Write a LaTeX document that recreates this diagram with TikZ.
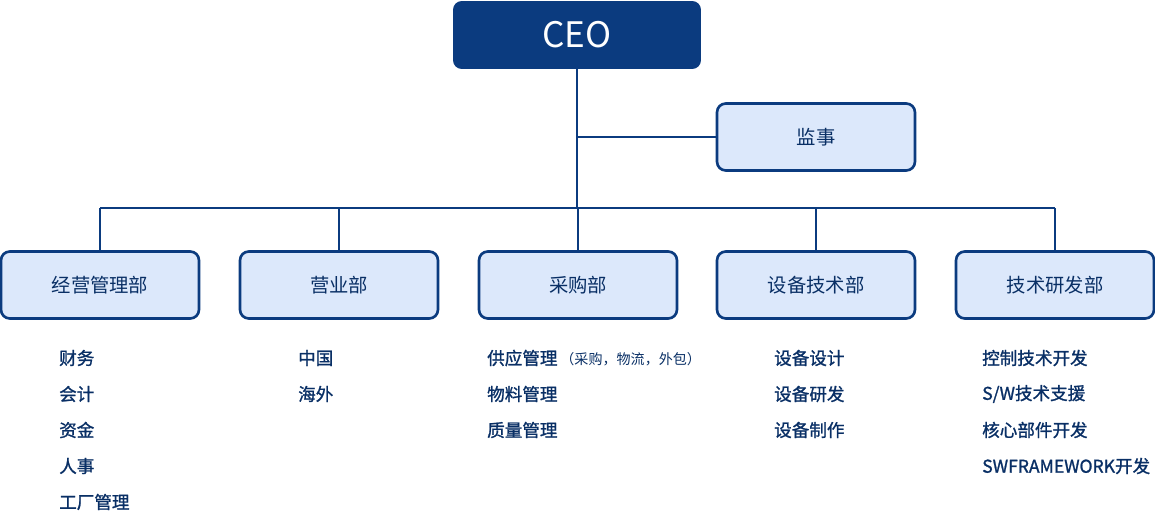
\documentclass[tikz,border=0pt]{standalone}
\usepackage{fontspec}
\newfontfamily\cjk{Noto Sans CJK SC}
\newfontfamily\cjkmid{Noto Sans CJK SC}[FakeBold=1.2]
\usepackage{tikz}
\usetikzlibrary{positioning, calc}
\definecolor{navy}{HTML}{0B3B7F}
\definecolor{pale}{HTML}{DCE8FB}
\begin{document}
\begin{tikzpicture}[
        x=0.02cm, y=-0.02cm,
        dept/.style={rectangle, draw=navy, line width=1.5pt, fill=pale, rounded corners=5pt, minimum width=3.96cm, minimum height=1.34cm, font=\cjk\fontsize{11}{13}\selectfont, text=navy!80!black},
        item/.style={anchor=west, font=\cjkmid\fontsize{10}{12}\selectfont, text=navy!80!black},
        link/.style={draw=navy, line width=1.2pt}
    ]
    \useasboundingbox (0,0) rectangle (1155,511);
    \node[rectangle, fill=navy, rounded corners=5pt, minimum width=4.96cm, minimum height=1.36cm, text=white, font=\cjk\fontsize{20}{24}\selectfont] (ceo) at (577,35) {CEO};
    \node[dept] (audit) at (816,137) {监事};

    \node[dept] (mgmt) at (100,285) {经营管理部};
    \node[dept] (sales) at (339,285) {营业部};
    \node[dept] (purch) at (578,285) {采购部};
    \node[dept] (equip) at (816,285) {设备技术部};
    \node[dept] (rnd) at (1055,285) {技术研发部};

    % Links
    \coordinate (bus) at (577,208);
    \draw[link] (ceo.south) -- (bus);
    \draw[link] (ceo.south |- audit.west) -- (audit.west);
    \draw[link] (mgmt.north |- bus) -- (rnd.north |- bus);
    \foreach \d in {mgmt, sales, purch, equip, rnd}
        \draw[link] (\d.north |- bus) -- (\d.north);

    % Sub units
    \foreach \t [count=\i] in {财务, 会计, 资金, 人事, 工厂管理}
        \node[item] (m\i) at (53,322+36*\i) {\t};
    \foreach \t [count=\i] in {中国, 海外}
        \node[item] (s\i) at (292,322+36*\i) {\t};
    \node[item] (p1) at (481,358) {供应管理\,{\cjk\fontsize{8}{10}\selectfont（采购，物流，外包）}};
    \foreach \t [count=\i from 2] in {物料管理, 质量管理}
        \node[item] (p\i) at (481,322+36*\i) {\t};
    \foreach \t [count=\i] in {设备设计, 设备研发, 设备制作}
        \node[item] (e\i) at (768,322+36*\i) {\t};
    \foreach \t [count=\i] in {控制技术开发, S/W技术支援, 核心部件开发, SWFRAMEWORK开发}
        \node[item] (r\i) at (976,322+36*\i) {\t};
\end{tikzpicture}
\end{document}
